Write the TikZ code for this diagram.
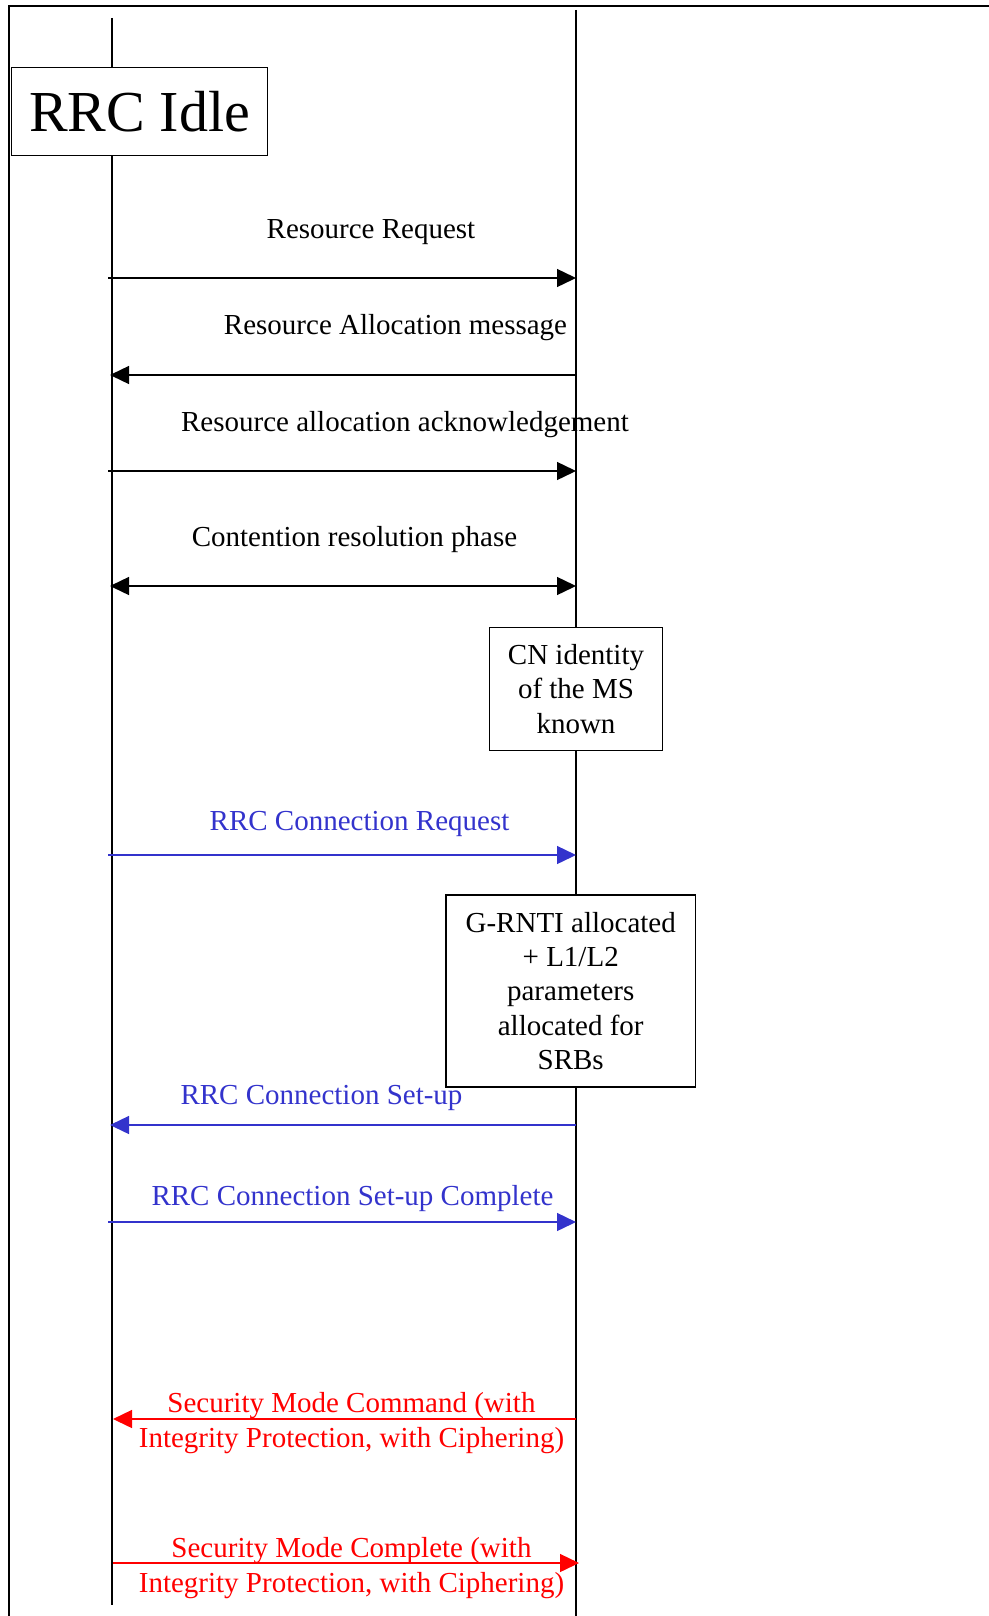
\documentclass[tikz,border=0pt]{standalone}
\usepackage{fontspec}
\setmainfont{Liberation Serif}
\usetikzlibrary{arrows.meta}
\usepackage{xcolor}
\definecolor{msgblue}{RGB}{51,51,204}
\definecolor{msgred}{RGB}{255,0,0}

\begin{document}
\begin{tikzpicture}[x=0.5pt, y=-0.5pt,
  msg/.style={-{Triangle[length=9.5pt,width=9pt]}, line width=0.7pt},
  life/.style={line width=0.75pt},
  lbl/.style={font=\fontsize{14.5}{17.5}\selectfont, inner sep=0pt, align=center},
  statebox/.style={draw, fill=white, line width=0.7pt, align=center, inner sep=0pt,
    font=\fontsize{14.5}{17.2}\selectfont}
]
\useasboundingbox (0,0) rectangle (989,1616);

% frame
\draw[line width=0.6pt] (9,1616) -- (9,6) -- (989,6);

% lifelines
\coordinate (ms top) at (112,18);
\coordinate (ms bot) at (112,1605);
\coordinate (net top) at (576,10);
\coordinate (net bot) at (576,1616);
\draw[life] (ms top) -- (ms bot);
\draw[life] (net top) -- (net bot);

\node[statebox, minimum width=128pt, minimum height=44pt,
  font=\fontsize{29}{33}\selectfont] (idle) at (139.5,111.5) {RRC Idle};

% resource phase
\node[lbl] (reqlbl) at (371,232) {Resource Request};
\coordinate (req-a) at (108,278);
\coordinate (req-b) at (576,278);
\draw[msg] (req-a) -- (req-b);

\node[lbl] (alloclbl) at (395.5,327.5) {Resource Allocation message};
\coordinate (alloc-a) at (576,375);
\coordinate (alloc-b) at (110,375);
\draw[msg] (alloc-a) -- (alloc-b);

\node[lbl] (acklbl) at (405,424.5) {Resource allocation acknowledgement};
\coordinate (ack-a) at (108,471);
\coordinate (ack-b) at (576,471);
\draw[msg] (ack-a) -- (ack-b);

\node[lbl] (contlbl) at (354.5,540) {Contention resolution phase};
\coordinate (cont-a) at (110,586);
\coordinate (cont-b) at (576,586);
\draw[msg, {Triangle[length=9.5pt,width=9pt]}-{Triangle[length=9.5pt,width=9pt]}] (cont-a) -- (cont-b);

\node[statebox, minimum width=86.5pt, minimum height=61.5pt] (cnid) at (576,689)
  {CN identity\\of the MS\\known};

% rrc connection
\node[lbl, text=msgblue] (conreqlbl) at (359.5,823.5) {RRC Connection Request};
\coordinate (conreq-a) at (108,855);
\coordinate (conreq-b) at (576,855);
\draw[msg, msgblue] (conreq-a) -- (conreq-b);

\node[statebox, minimum width=124.7pt, minimum height=96pt] (grnti) at (570.7,991)
  {G-RNTI allocated\\+ L1/L2\\parameters\\allocated for\\SRBs};

\node[lbl, text=msgblue] (setuplbl) at (321.5,1097.5) {RRC Connection Set-up};
\coordinate (setup-a) at (576,1125);
\coordinate (setup-b) at (110,1125);
\draw[msg, msgblue] (setup-a) -- (setup-b);

\node[lbl, text=msgblue] (complbl) at (352.5,1198.5) {RRC Connection Set-up Complete};
\coordinate (comp-a) at (108,1222);
\coordinate (comp-b) at (576,1222);
\draw[msg, msgblue] (comp-a) -- (comp-b);

% security mode
\coordinate (smc-a) at (576,1419);
\coordinate (smc-b) at (113,1419);
\draw[msg, msgred] (smc-a) -- (smc-b);
\node[lbl, text=msgred] (smclbl) at (351.5,1423.5)
  {Security Mode Command (with\\Integrity Protection, with Ciphering)};

\coordinate (smcc-a) at (113,1563);
\coordinate (smcc-b) at (579,1563);
\draw[msg, msgred] (smcc-a) -- (smcc-b);
\node[lbl, text=msgred] (smcclbl) at (351.5,1568.5)
  {Security Mode Complete (with\\Integrity Protection, with Ciphering)};
\end{tikzpicture}
\end{document}
